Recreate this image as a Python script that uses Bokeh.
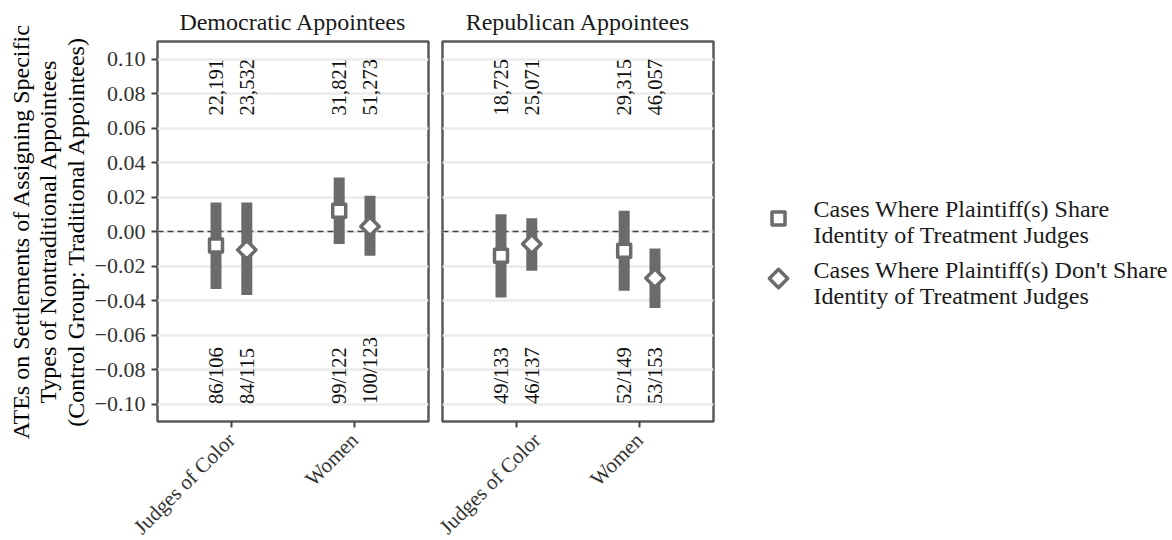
import math
from bokeh.plotting import figure
from bokeh.models import Range1d, FixedTicker, Span, ColumnDataSource
from bokeh.layouts import row
from bokeh.embed import file_html
from bokeh.resources import INLINE
from bokeh.core.properties import value

# ---------------- data ----------------
categories = ["Judges of Color", "Women"]
panels = ["Democratic Appointees", "Republican Appointees"]

dem_share_est = [-0.0080, 0.0121]
dem_share_lo = [-0.0333, -0.0072]
dem_share_hi = [0.0169, 0.0314]
dem_nonshare_est = [-0.0106, 0.0030]
dem_nonshare_lo = [-0.0368, -0.0140]
dem_nonshare_hi = [0.0169, 0.0208]

rep_share_est = [-0.0140, -0.0111]
rep_share_lo = [-0.0382, -0.0343]
rep_share_hi = [0.0101, 0.0121]
rep_nonshare_est = [-0.0072, -0.0270]
rep_nonshare_lo = [-0.0227, -0.0443]
rep_nonshare_hi = [0.0078, -0.0098]

dem_share_cases = ["22,191", "31,821"]
dem_nonshare_cases = ["23,532", "51,273"]
rep_share_cases = ["18,725", "29,315"]
rep_nonshare_cases = ["25,071", "46,057"]

dem_share_settled = ["86/106", "99/122"]
dem_nonshare_settled = ["84/115", "100/123"]
rep_share_settled = ["49/133", "52/149"]
rep_nonshare_settled = ["46/137", "53/153"]

y_ticks = [-0.10, -0.08, -0.06, -0.04, -0.02, 0.0, 0.02, 0.04, 0.06, 0.08, 0.10]
y_tick_labels = ["\u22120.10", "\u22120.08", "\u22120.06", "\u22120.04", "\u22120.02",
                 "0.00", "0.02", "0.04", "0.06", "0.08", "0.10"]

legend_labels = ["Cases Where Plaintiff(s) Share\nIdentity of Treatment Judges",
                 "Cases Where Plaintiff(s) Don't Share\nIdentity of Treatment Judges"]

y_label = ("ATEs on Settlements of Assigning Specific\n"
           "Types of Nontraditional Appointees\n"
           "(Control Group: Traditional Appointees)")

# ---------------- style / layout ----------------
FONT = "Liberation Serif"
BAR = "#6b6b6b"
BORDER = "#595959"
DODGE = 0.125
FRAME_W, FRAME_H = 271, 380
B_TOP = 41
ML1, MR1, ML2, MR2 = 157, 6, 8, 3
Y_MIN, Y_MAX = -0.1101, 0.1102
TOP_LABEL_Y = 0.10
BOTTOM_LABEL_Y = -0.10


def make_panel(title, share, nonshare, share_txt, nonshare_txt, share_set, nonshare_set,
               left_axis, ml, mr):
    p = figure(frame_width=FRAME_W, frame_height=FRAME_H,
               x_range=Range1d(0.4, 2.6), y_range=Range1d(Y_MIN, Y_MAX),
               output_backend="svg", toolbar_location=None, title=title,
               min_border_left=ml, min_border_right=mr, min_border_top=B_TOP,
               min_border_bottom=0)
    p.title.align = "center"
    p.title.text_font = FONT
    p.title.text_font_size = "24px"
    p.title.text_font_style = "normal"
    p.title.text_color = "#1a1a1a"
    p.title.standoff = 13

    p.outline_line_color = BORDER
    p.outline_line_width = 2.5
    p.background_fill_color = "white"
    p.border_fill_color = "white"

    cat_x = [i + 1 for i in range(len(categories))]
    p.xaxis.ticker = FixedTicker(ticks=cat_x)
    p.xaxis.major_label_overrides = dict(zip(cat_x, categories))
    p.xaxis.major_label_orientation = math.pi / 4
    p.yaxis.ticker = FixedTicker(ticks=y_ticks)
    p.yaxis.major_label_overrides = dict(zip(y_ticks, y_tick_labels))
    for ax in (p.xaxis[0], p.yaxis[0]):
        ax.axis_line_color = None
        ax.major_tick_line_color = "#444444"
        ax.major_tick_line_width = 2
        ax.major_tick_out = 6
        ax.major_tick_in = 0
        ax.minor_tick_line_color = None
        ax.major_label_text_font = FONT
        ax.major_label_text_color = "#333333"
    p.xaxis.major_label_text_font_size = "21px"
    p.xaxis.major_label_standoff = 9
    p.yaxis.major_label_text_font_size = "22px"
    p.yaxis.major_label_standoff = 6

    if left_axis:
        p.yaxis.axis_label = y_label
        p.yaxis.axis_label_text_font = FONT
        p.yaxis.axis_label_text_font_size = "24px"
        p.yaxis.axis_label_text_font_style = "normal"
        p.yaxis.axis_label_text_color = "#000000"
        p.yaxis.axis_label_text_line_height = 1.05
        p.yaxis.axis_label_standoff = 3
    else:
        p.yaxis.visible = False

    p.xgrid.grid_line_color = None
    p.ygrid.ticker = FixedTicker(ticks=y_ticks)
    p.ygrid.grid_line_color = "#ebebeb"
    p.ygrid.grid_line_width = 2.5

    p.add_layout(Span(location=0, dimension="width", line_color="#444444",
                      line_width=1.5, line_dash="6 4", level="underlay"))

    xs_share = [i + 1 - DODGE for i in range(len(categories))]
    xs_non = [i + 1 + DODGE for i in range(len(categories))]

    for xs, (est, lo, hi), marker_angle in ((xs_share, share, 0.0), (xs_non, nonshare, math.pi / 4)):
        src = ColumnDataSource(dict(x=xs, est=est, lo=lo, hi=hi))
        p.segment(x0="x", y0="lo", x1="x", y1="hi", source=src, line_color=BAR,
                  line_width=11, line_cap="butt")
        p.scatter(x="x", y="est", source=src, marker="square", size=13, angle=marker_angle,
                  fill_color="white", line_color=BAR, line_width=3.5, line_join="round")

    for xs, txt in ((xs_share, share_txt), (xs_non, nonshare_txt)):
        p.text(x=xs, y=[TOP_LABEL_Y] * len(xs), text=txt, angle=math.pi / 2,
               text_align="right", text_baseline="middle", text_font=value(FONT),
               text_font_size="20.5px", text_color="#111111")
    for xs, txt in ((xs_share, share_set), (xs_non, nonshare_set)):
        p.text(x=xs, y=[BOTTOM_LABEL_Y] * len(xs), text=txt, angle=math.pi / 2,
               text_align="left", text_baseline="middle", text_font=value(FONT),
               text_font_size="20.5px", text_color="#111111")
    return p


p1 = make_panel(panels[0],
                (dem_share_est, dem_share_lo, dem_share_hi),
                (dem_nonshare_est, dem_nonshare_lo, dem_nonshare_hi),
                dem_share_cases, dem_nonshare_cases, dem_share_settled, dem_nonshare_settled,
                True, ML1, MR1)
p2 = make_panel(panels[1],
                (rep_share_est, rep_share_lo, rep_share_hi),
                (rep_nonshare_est, rep_nonshare_lo, rep_nonshare_hi),
                rep_share_cases, rep_nonshare_cases, rep_share_settled, rep_nonshare_settled,
                False, ML2, MR2)

# ---------------- legend panel (page-pixel coordinates) ----------------
lg_left = ML1 + FRAME_W + MR1 + ML2 + FRAME_W + MR2
LW = 1172 - lg_left
frame_top = B_TOP
frame_bottom = B_TOP + FRAME_H
lg = figure(frame_width=LW, frame_height=FRAME_H,
            x_range=Range1d(lg_left, lg_left + LW), y_range=Range1d(frame_bottom, frame_top),
            x_axis_type=None, y_axis_type=None, output_backend="svg", toolbar_location=None,
            min_border_left=0, min_border_right=0, min_border_top=B_TOP,
            min_border_bottom=0)
lg.outline_line_color = None
lg.grid.visible = False
key_x = [778, 778]
key_y = [218, 278]
text_x = [813, 813]
text_y = [221, 282]
lg.scatter(x=key_x[:1], y=key_y[:1], marker="square", size=13, fill_color="white",
           line_color=BAR, line_width=3.5, line_join="round")
lg.scatter(x=key_x[1:], y=key_y[1:], marker="square", angle=math.pi / 4, size=13,
           fill_color="white", line_color=BAR, line_width=3.5, line_join="round")
lg.text(x=text_x, y=text_y, text=legend_labels, text_align="left", text_baseline="middle",
        text_font=value(FONT), text_font_size="24px", text_line_height=1.0,
        text_color="#1a1a1a")

layout = row(p1, p2, lg)
open("out.html", "w").write(file_html(layout, INLINE))
